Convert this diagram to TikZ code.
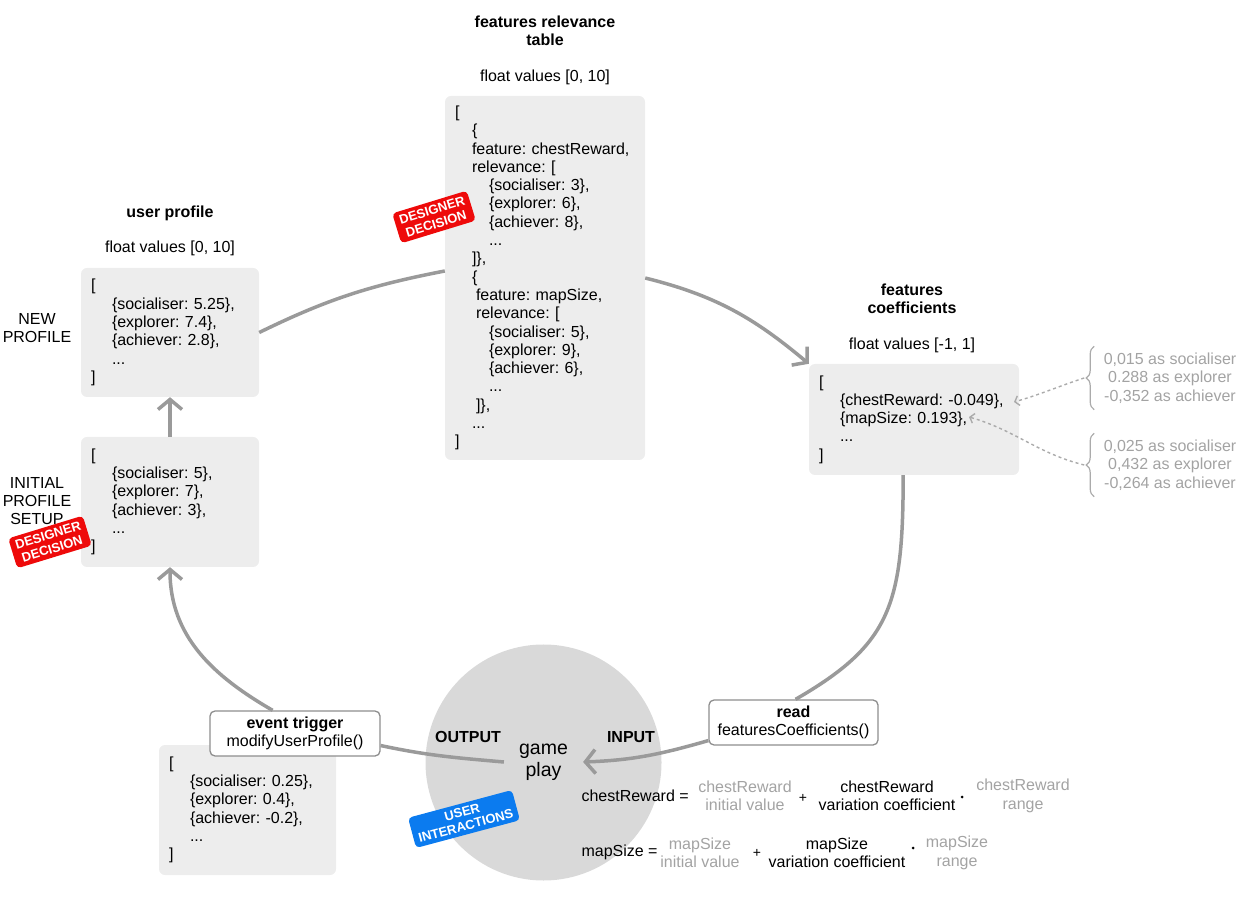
\documentclass[tikz,border=0pt]{standalone}
\usepackage{fontspec}
\setmainfont{Liberation Sans}
\frenchspacing
\usetikzlibrary{arrows.meta, decorations.pathreplacing}
\definecolor{boxgray}{HTML}{EDEDED}
\definecolor{playgray}{HTML}{D9D9D9}
\definecolor{linegray}{HTML}{9A9A9A}
\definecolor{edgegray}{HTML}{8E8E8E}
\definecolor{hintgray}{HTML}{ABABAB}
\definecolor{softgray}{HTML}{A3A3A3}
\definecolor{badgered}{HTML}{EE0A0A}
\definecolor{badgeblue}{HTML}{0B7BEF}
\newcommand{\indt}[1]{\hspace*{#1pt}}

\begin{document}
\begin{tikzpicture}[
    x=1pt, y=1pt,
    txt/.style={font=\fontsize{16}{18.3}\selectfont},
    head/.style={font=\fontsize{16}{18.3}\selectfont\bfseries, align=center},
    databox/.style={txt, fill=boxgray, rounded corners=6pt, align=left, inner xsep=10pt, inner ysep=0pt},
    callbox/.style={txt, draw=edgegray, line width=1.3pt, fill=white, rounded corners=5pt,
                    align=center, minimum height=45pt, inner sep=0pt},
    badge/.style={fill=badgered, text=white, rounded corners=4pt, align=center, inner xsep=5pt,
                  inner ysep=4pt, font=\fontsize{13}{14}\selectfont\bfseries},
    note/.style={txt, text=softgray, align=center},
    dot/.style={circle, fill=black, inner sep=0pt, minimum size=3pt},
    flow/.style={draw=linegray, line width=3.5pt},
    arr/.style={flow, -{Straight Barb[length=10pt, width=24pt]}},
    hint/.style={draw=hintgray, line width=1.4pt, dash pattern=on 3pt off 3pt,
                 -{Straight Barb[length=4pt, width=10pt]}},
    curly/.style={draw=hintgray, line width=1.2pt, decorate, decoration={brace, amplitude=8pt}}
  ]
  \path[use as bounding box] (0,0) rectangle (1249,897);

  % features relevance table
  \node[head] (reltitle) at (545,866) {features relevance\\table};
  \node[txt]  (relrange) at (545,820) {float values [0, 10]};
  \node[databox, text width=180pt, minimum height=364pt] (relbox) at (545,619) {[\\
    \indt{17}\{\\
    \indt{17}feature: chestReward,\\
    \indt{17}relevance: [\\
    \indt{34}\{socialiser: 3\},\\
    \indt{34}\{explorer: 6\},\\
    \indt{34}\{achiever: 8\},\\
    \indt{34}...\\
    \indt{17}]\},\\
    \indt{17}\{\\
    \indt{21}feature: mapSize,\\
    \indt{21}relevance: [\\
    \indt{34}\{socialiser: 5\},\\
    \indt{34}\{explorer: 9\},\\
    \indt{34}\{achiever: 6\},\\
    \indt{34}...\\
    \indt{21}]\},\\
    \indt{17}...\\
    ]};
  \node[badge, rotate=17] (relbadge) at (434,680) {DESIGNER\\DECISION};

  % user profile
  \node[head] (usertitle) at (170,684) {user profile};
  \node[txt]  (userrange) at (170,649) {float values [0, 10]};
  \node[databox, text width=158pt, minimum height=129pt] (newbox) at (170,564.5) {[\\
    \indt{21}\{socialiser: 5.25\},\\
    \indt{21}\{explorer: 7.4\},\\
    \indt{21}\{achiever: 2.8\},\\
    \indt{21}...\\
    ]};
  \node[databox, text width=158pt, minimum height=130pt] (initbox) at (170,395) {[\\
    \indt{21}\{socialiser: 5\},\\
    \indt{21}\{explorer: 7\},\\
    \indt{21}\{achiever: 3\},\\
    \indt{21}...\\
    ]};
  \node[txt, align=center] (newlabel)  at (37,569) {NEW\\PROFILE};
  \node[txt, align=center] (initlabel) at (37,396) {INITIAL\\PROFILE\\SETUP};
  \node[badge, rotate=17] (userbadge) at (50,355) {DESIGNER\\DECISION};

  % features coefficients
  \node[head] (coeftitle) at (912,598) {features\\coefficients};
  \node[txt]  (coefrange) at (912,552) {float values [-1, 1]};
  \node[databox, text width=190pt, minimum height=111pt] (coefbox) at (914,477.5) {[\\
    \indt{21}\{chestReward: -0.049\},\\
    \indt{21}\{mapSize: 0.193\},\\
    \indt{21}...\\
    ]};
  \node[note] (chestnote) at (1170,519) {0,015 as socialiser\\0.288 as explorer\\-0,352 as achiever};
  \node[note] (mapnote)   at (1170,432) {0,025 as socialiser\\0,432 as explorer\\-0,264 as achiever};
  \draw[curly] ([xshift=-6pt,yshift=-3pt]chestnote.south west) -- ([xshift=-6pt,yshift=3pt]chestnote.north west);
  \draw[curly] ([xshift=-6pt,yshift=-3pt]mapnote.south west) -- ([xshift=-6pt,yshift=3pt]mapnote.north west);
  \coordinate (chesttip) at ([xshift=-16pt]chestnote.west);
  \coordinate (maptip)   at ([xshift=-16pt]mapnote.west);
  \coordinate (chestend) at (1014,495);
  \coordinate (mapend)   at (969,480);
  \draw[hint] (chesttip) to[out=198, in=16] (chestend);
  \draw[hint] (maptip)   to[out=166, in=-16] (mapend);

  % game play
  \node[circle, fill=playgray, minimum size=236pt, inner sep=0pt] (play) at (543.5,134.5) {};
  \node[align=center, inner xsep=15pt, font=\fontsize{19.5}{22}\selectfont] (playtext) at (543.5,135) {game\\play};
  \node[head] (outlabel) at (468,160) {OUTPUT};
  \node[head] (inlabel)  at (631,160) {INPUT};
  \node[badge, fill=badgeblue, rotate=15, font=\fontsize{13}{14}\selectfont\bfseries] (playbadge) at (464,78) {USER\\INTERACTIONS};

  \node[databox, text width=157pt, minimum height=130pt] (outbox) at (247.5,87) {[\\
    \indt{21}\{socialiser: 0.25\},\\
    \indt{21}\{explorer: 0.4\},\\
    \indt{21}\{achiever: -0.2\},\\
    \indt{21}...\\
    ]};
  \node[callbox, minimum width=170pt] (eventbox) at (295,163.5) {\textbf{event trigger}\\modifyUserProfile()};
  \node[callbox, minimum width=169pt] (readbox)  at (793.5,174.5) {\textbf{read}\\featuresCoefficients()};

  % formulas
  \node[txt, anchor=west] (chestlhs) at (578,101) {chestReward =};
  \node[note] (chestinit)  at (745,101) {chestReward\\initial value};
  \node[font=\fontsize{14}{16}\selectfont] (chestplus) at (803,99) {+};
  \node[txt, align=center] (chestvar) at (887,101) {chestReward\\variation coefficient};
  \node[dot] (chestdot) at (962,100) {};
  \node[note] (chestrange) at (1023,101) {chestReward\\range};

  \node[txt, anchor=west] (maplhs) at (578,45) {mapSize =};
  \node[note] (mapinit)  at (700,44) {mapSize\\initial value};
  \node[font=\fontsize{14}{16}\selectfont] (mapplus) at (757,44) {+};
  \node[txt, align=center] (mapvar) at (837,44) {mapSize\\variation coefficient};
  \node[dot] (mapdot) at (913,49) {};
  \node[note] (maprange) at (957,44) {mapSize\\range};

  % cycle
  \draw[flow] (newbox.east) to[out=26, in=191] (relbox.176);
  \draw[arr]  (relbox.east) to[out=-14, in=140] (coefbox.north west);
  \draw[flow] (coefbox.259) to[out=-90, in=30, out distance=130pt, in distance=110pt] (readbox.85);
  \draw[arr]  (readbox.192) to[out=196, in=2] (playtext.east);
  \draw[flow] (playtext.west) to[out=175, in=-12] (eventbox.-8);
  \draw[arr]  (eventbox.134) to[out=150, in=-90] (initbox.south);
  \draw[arr]  (initbox.north) -- (newbox.south);
\end{tikzpicture}
\end{document}
